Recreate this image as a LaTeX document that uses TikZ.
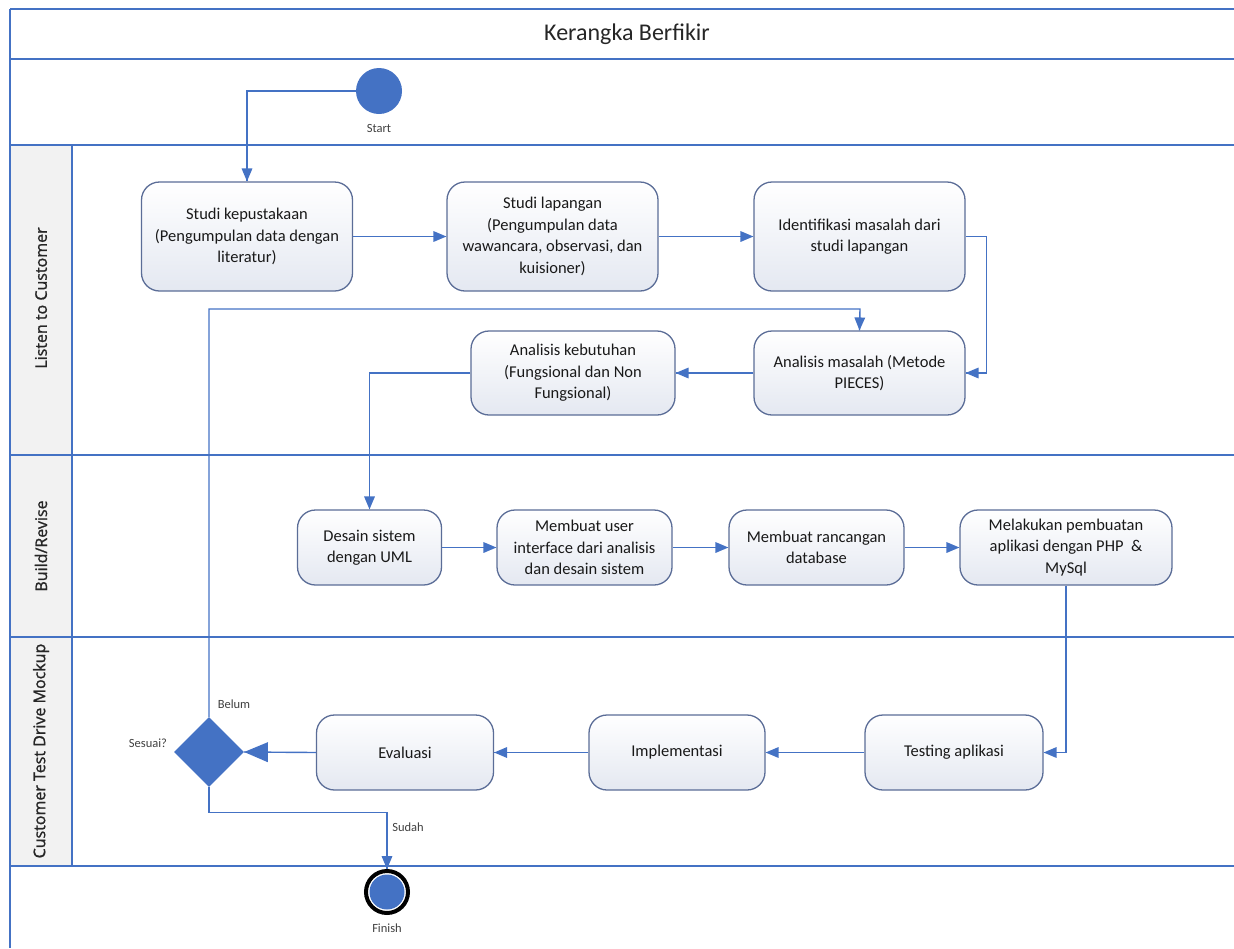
\documentclass[tikz,border=0pt]{standalone}
\usepackage{fontspec}
\setmainfont{Carlito}
\newfontfamily\lanefont[FakeBold=1.2]{Open Sans}
\usepackage{tikz}
\usetikzlibrary{arrows,decorations.markings,shapes.geometric}

\definecolor{laneblue}{HTML}{4472C4}
\definecolor{boxline}{HTML}{5B6D97}
\definecolor{boxfill}{HTML}{E4E8F1}
\definecolor{headfill}{HTML}{F2F2F2}

\tikzset{
  lane/.style={draw=laneblue, line width=2pt},
  proses/.style={draw=boxline, line width=1.3pt, rounded corners=18pt, top color=white, bottom color=boxfill,
    align=center, inner sep=0pt, text=black!90, font=\fontsize{16.5}{21.5}\selectfont},
  alur/.style={draw=laneblue, line width=1.4pt, decoration={markings,mark=at position 1 with
    {\arrow[scale=1.25,>=triangle 45]{>}}},postaction={decorate}},
  alurbesar/.style={draw=laneblue, line width=1.4pt, decoration={markings,mark=at position 1 with
    {\arrow[scale=2.3,>=triangle 45]{>}}},postaction={decorate}},
  ket/.style={font=\fontsize{12.5}{14}\selectfont, text=black!75},
  lanelabel/.style={rotate=90, font=\lanefont\fontsize{16}{18}\selectfont, text=black!85}
}

\begin{document}
\begin{tikzpicture}[x=1pt,y=-1pt]
\useasboundingbox (0,0) rectangle (1234,948);

\fill[headfill] (10,145) rectangle (72,866);
\foreach \y in {9,59,145,455,637,866} {
    \draw[lane] (10,\y) -- (1234,\y);
}
\draw[lane] (10,9) -- (10,948);
\draw[lane] (72,145) -- (72,866);

\node[font=\fontsize{24}{28}\selectfont, text=black!85] (judul) at (627,34) {Kerangka Berfikir};
\node[lanelabel] (lane1) at (41,298) {Listen to Customer};
\node[lanelabel] (lane2) at (41,546) {Build/Revise};
\node[lanelabel] (lane3) at (41,751) {Customer Test Drive Mockup};

\node[circle, fill=laneblue, minimum size=46pt, inner sep=0pt] (start) at (379,91) {};
\node[ket] (startlbl) at (379,128) {Start};

\node[proses, minimum width=211pt, minimum height=109pt] (kepustakaan) at (247,236.5) {Studi kepustakaan\\(Pengumpulan data dengan\\literatur)};
\node[proses, minimum width=211pt, minimum height=109pt] (lapangan) at (552.5,236.5) {Studi lapangan\\(Pengumpulan data\\wawancara, observasi, dan\\kuisioner)};
\node[proses, minimum width=211pt, minimum height=109pt] (identifikasi) at (859.5,236.5) {Identifikasi masalah dari\\studi lapangan};
\node[proses, minimum width=211pt, minimum height=84pt] (masalah) at (859.5,373) {Analisis masalah (Metode\\PIECES)};
\node[proses, minimum width=204pt, minimum height=84pt] (kebutuhan) at (573,373) {Analisis kebutuhan\\(Fungsional dan Non\\Fungsional)};

\node[proses, minimum width=144pt, minimum height=75pt] (uml) at (369.5,547.5) {Desain sistem\\dengan UML};
\node[proses, minimum width=175pt, minimum height=75pt] (ui) at (584.5,547.5) {Membuat user\\interface dari analisis\\dan desain sistem};
\node[proses, minimum width=175pt, minimum height=75pt] (database) at (816.5,547.5) {Membuat rancangan\\database};
\node[proses, minimum width=212pt, minimum height=75pt] (aplikasi) at (1066,547.5) {Melakukan pembuatan\\aplikasi dengan PHP \ \&\\MySql};

\node[proses, minimum width=178pt, minimum height=75pt] (testing) at (954,752.5) {Testing aplikasi};
\node[proses, minimum width=176pt, minimum height=75pt] (implementasi) at (677,752.5) {Implementasi};
\node[proses, minimum width=177pt, minimum height=75pt] (evaluasi) at (405,752.5) {Evaluasi};

\node[diamond, fill=laneblue, minimum size=70pt, inner sep=0pt] (sesuai) at (209,752) {};
\node[ket] (sesuailbl) at (148,743) {Sesuai?};
\node[ket] (belum) at (234,704) {Belum};
\node[ket] (sudah) at (408,827) {Sudah};

\node[circle, draw=black, line width=4pt, fill=white, minimum size=42pt, inner sep=0pt] (finish) at (387,892) {};
\node[circle, fill=laneblue, minimum size=35pt, inner sep=0pt] (finishdot) at (finish) {};
\node[ket] (finishlbl) at (387,928) {Finish};

\coordinate (balik) at (860,309);

\draw[alur] (start.west) -| (kepustakaan.north);
\draw[alur] (kepustakaan) -- (lapangan);
\draw[alur] (lapangan) -- (identifikasi);
\draw[alur] (identifikasi.east) -- ++(21,0) |- (masalah.east);
\draw[alur] (masalah) -- (kebutuhan);
\draw[alur] (kebutuhan.west) -| (uml.north);
\draw[alur] (uml) -- (ui);
\draw[alur] (ui) -- (database);
\draw[alur] (database) -- (aplikasi);
\draw[alur] (aplikasi.south) |- (testing.east);
\draw[alur] (testing) -- (implementasi);
\draw[alur] (implementasi) -- (evaluasi);
\draw[alurbesar] (evaluasi.west) -- (sesuai.east);
\draw[alur] (sesuai.north) |- (balik) -- (masalah.north);
\draw[alur] (sesuai.south) -- ++(0,25) -| (finish.north);
\end{tikzpicture}
\end{document}
